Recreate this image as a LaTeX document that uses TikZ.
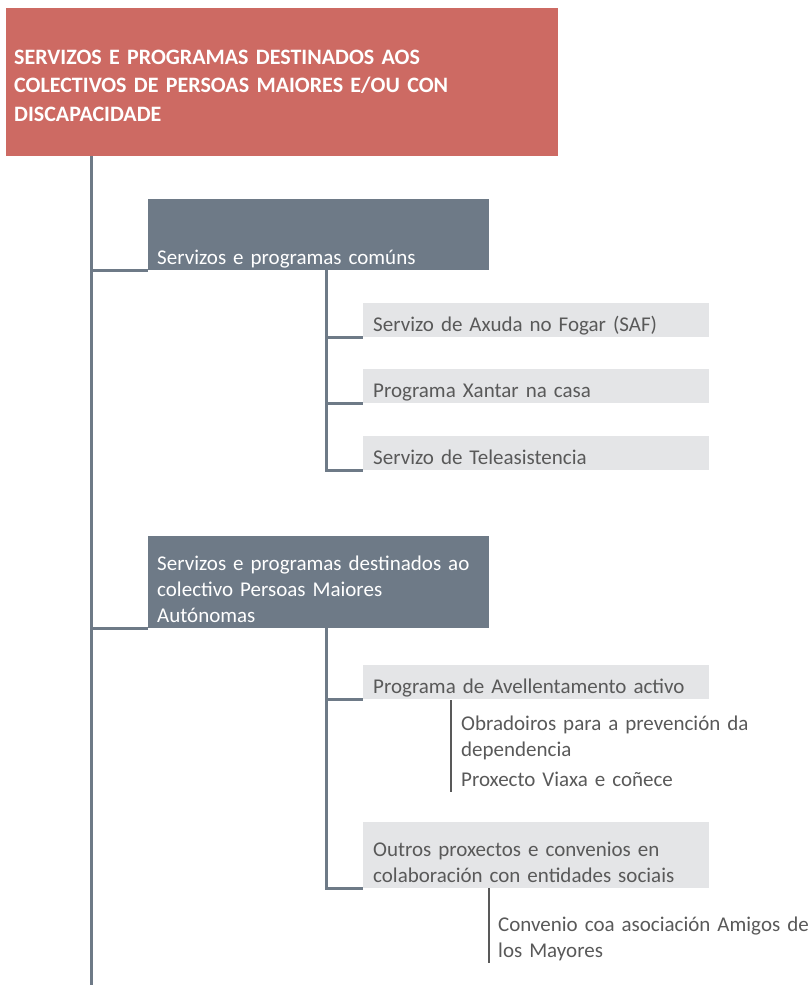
\documentclass[tikz,border=0pt]{standalone}
\usepackage{fontspec}
\setmainfont{Carlito}
\definecolor{titlered}{HTML}{CD6A63}
\definecolor{slate}{HTML}{6E7A87}
\definecolor{lightbox}{HTML}{E4E5E7}
\definecolor{itemgray}{HTML}{595959}

\tikzset{
  titlebox/.style={fill=titlered,text=white,font=\fontsize{22}{28.5}\selectfont\bfseries,
    anchor=north west,inner xsep=8pt,inner ysep=0pt,text width=536pt,align=left},
  groupbox/.style={fill=slate,text=white,font=\fontsize{21}{26}\selectfont,
    anchor=north west,inner xsep=9pt,inner ysep=0pt,text width=323pt,align=left},
  itembox/.style={fill=lightbox,text=itemgray,font=\fontsize{21}{26}\selectfont,
    anchor=north west,inner xsep=10pt,inner ysep=0pt,text width=326pt,align=left,
    text height=28pt,text depth=6pt},
  subtext/.style={text=itemgray,font=\fontsize{21}{26}\selectfont,
    anchor=base west,inner sep=0pt,text width=320pt,align=left},
  trunk/.style={slate,line width=3pt,line join=miter},
  twig/.style={itemgray,line width=2pt},
}

\begin{document}
\begin{tikzpicture}[x=1pt,y=-1pt]
    \useasboundingbox (0,0) rectangle (810,987);

    \node[titlebox,text height=56pt,text depth=92pt] (title) at (6,8)
        {SERVIZOS E PROGRAMAS DESTINADOS AOS\\ COLECTIVOS DE PERSOAS MAIORES E/OU CON\\ DISCAPACIDADE};

    \node[groupbox,text height=65pt,text depth=6pt] (comuns) at (148,199) {Servizos e programas comúns};
    \node[itembox] (saf) at (363,303) {Servizo de Axuda no Fogar (SAF)};
    \node[itembox] (xantar) at (363,369) {Programa Xantar na casa};
    \node[itembox] (tele) at (363,436) {Servizo de Teleasistencia};

    \node[groupbox,text height=34pt,text depth=58pt] (autonomas) at (148,536)
        {Servizos e programas destinados ao\\ colectivo Persoas Maiores\\ Autónomas};
    \node[itembox] (avellentamento) at (363,665) {Programa de Avellentamento activo};
    \node[subtext] (obradoiros) at (461,730) {Obradoiros para a prevención da\\ dependencia};
    \node[subtext] (viaxa) at (461,786) {Proxecto Viaxa e coñece};
    \node[itembox,text height=34pt,text depth=32pt] (outros) at (363,822)
        {Outros proxectos e convenios en\\ colaboración con entidades sociais};
    \node[subtext] (convenio) at (498,931) {Convenio coa asociación Amigos de\\ los Mayores};

    \coordinate (trunkend) at (91,985);
    \draw[trunk] (title.south -| trunkend) -- (trunkend);
    \draw[trunk] (trunkend |- comuns.south west) -- (comuns.south west);
    \draw[trunk] (trunkend |- autonomas.south west) -- (autonomas.south west);

    \coordinate (comunsfork) at (326,270);
    \draw[trunk] (comunsfork) -- (comunsfork |- tele.south west) -- (tele.south west);
    \draw[trunk] (comunsfork |- saf.south west) -- (saf.south west);
    \draw[trunk] (comunsfork |- xantar.south west) -- (xantar.south west);

    \coordinate (autonomasfork) at (326,628);
    \draw[trunk] (autonomasfork) -- (autonomasfork |- outros.south west) -- (outros.south west);
    \draw[trunk] (autonomasfork |- avellentamento.south west) -- (avellentamento.south west);

    \coordinate (avtwig) at (451,700);
    \coordinate (avtwigend) at (451,792);
    \draw[twig] (avtwig) -- (avtwigend);
    \coordinate (outrostwig) at (489,888);
    \coordinate (outrostwigend) at (489,963);
    \draw[twig] (outrostwig) -- (outrostwigend);
\end{tikzpicture}
\end{document}
